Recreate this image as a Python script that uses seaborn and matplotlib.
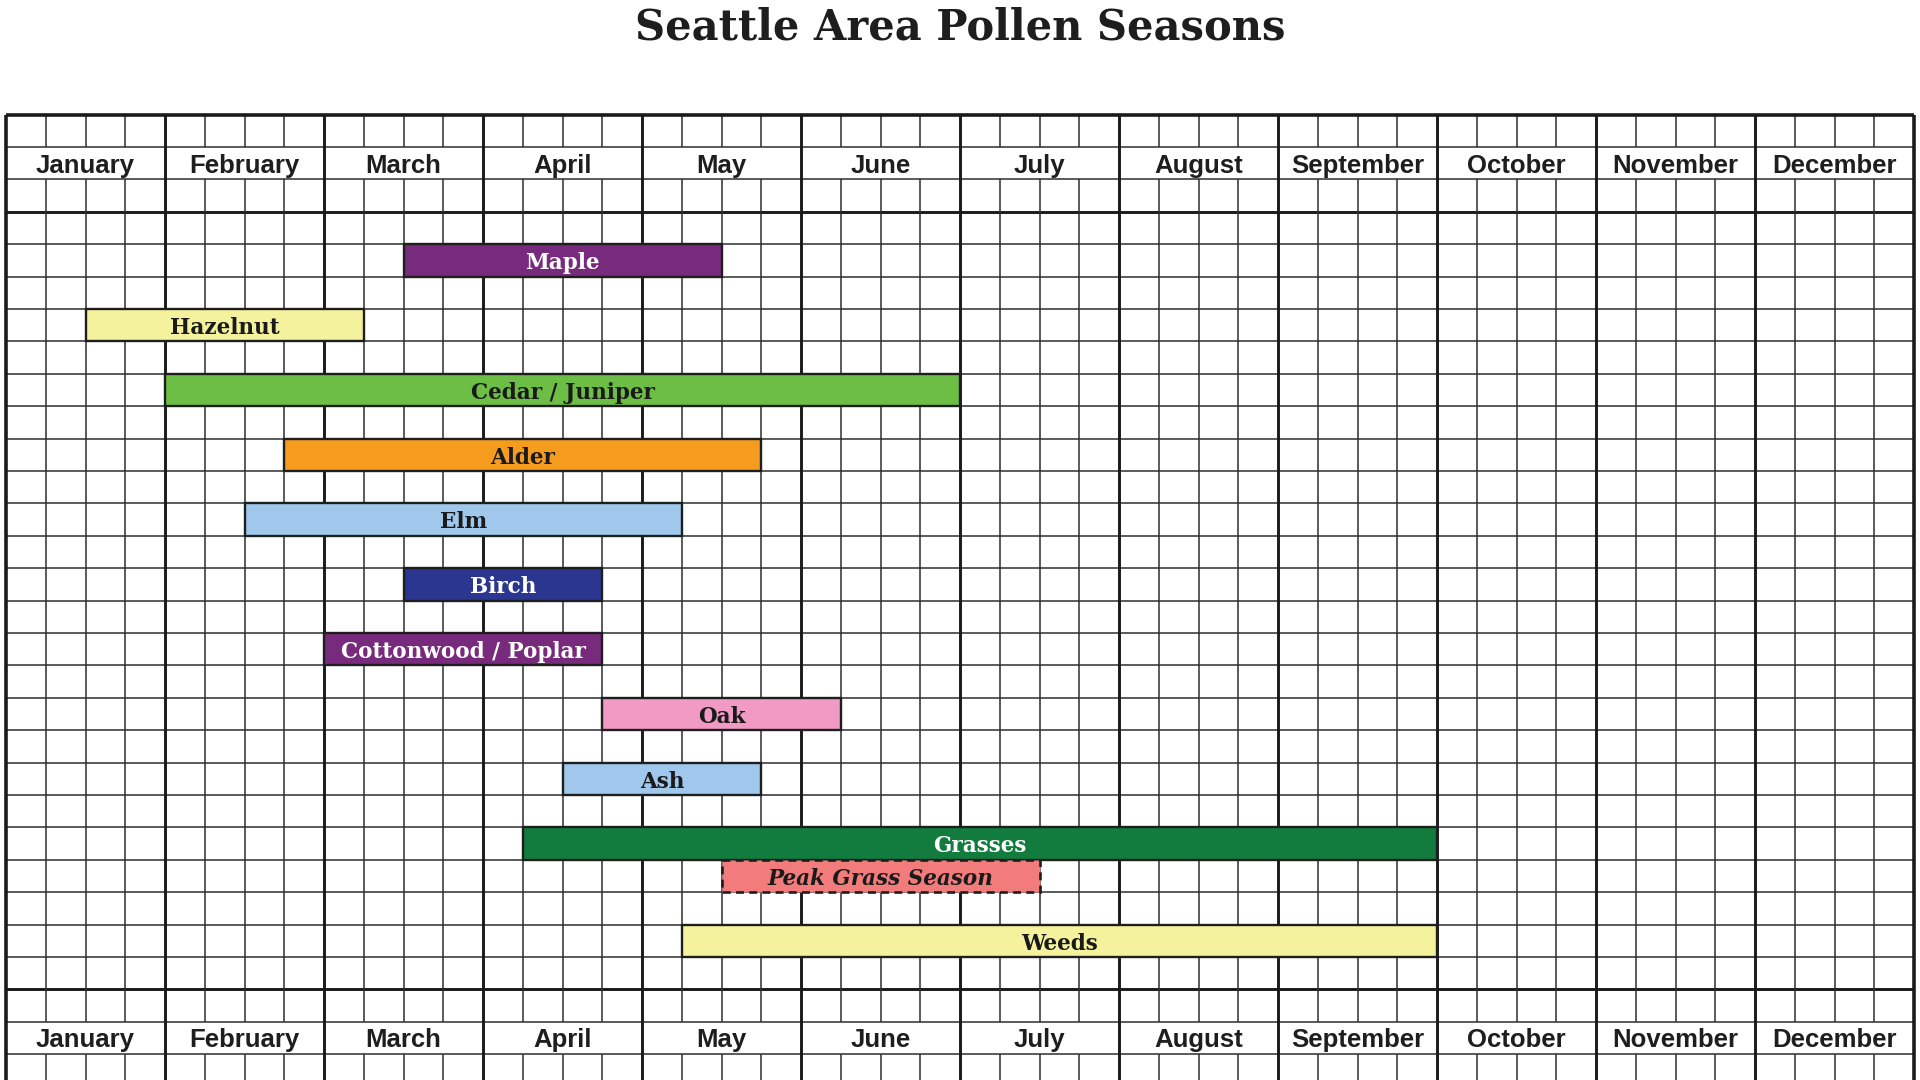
import matplotlib
matplotlib.use("Agg")
import matplotlib.pyplot as plt
import seaborn as sns
import pandas as pd

# ---------------- data ----------------
months = ["January", "February", "March", "April", "May", "June", "July",
          "August", "September", "October", "November", "December"]
weeks_per_month = 4

plants = ["Maple", "Hazelnut", "Cedar / Juniper", "Alder", "Elm", "Birch",
          "Cottonwood / Poplar", "Oak", "Ash", "Grasses", "Peak Grass Season", "Weeds"]
# season start / end, in weeks from 1 January (4 weeks per month)
start_week = [10, 2, 4, 7, 6, 10, 8, 15, 14, 13, 18, 17]
end_week = [18, 9, 24, 19, 17, 15, 15, 21, 19, 36, 26, 36]
row_index = [1, 3, 5, 7, 9, 11, 13, 15, 17, 19, 20, 22]
bar_colors = ["#782a7c", "#f4f29c", "#6dbe45", "#f59b1e", "#a0c8ec", "#2a3690",
              "#782a7c", "#f19ac4", "#a0c8ec", "#117c3e", "#f27b7b", "#f4f29c"]
text_colors = ["white", "#1a1a1a", "#1a1a1a", "#1a1a1a", "#1a1a1a", "white",
               "white", "#1a1a1a", "#1a1a1a", "white", "#1a1a1a", "#1a1a1a"]
dashed = [False] * 12
dashed[10] = True
italic = [False] * 12
italic[10] = True

df = pd.DataFrame({"plant": plants, "start": start_week, "end": end_week,
                   "row": row_index, "color": bar_colors, "tcolor": text_colors,
                   "dashed": dashed, "italic": italic})
df["duration"] = df["end"] - df["start"]

body_rows = 24
header_rows = 3

# ---------------- figure ----------------
sns.set_theme(style="white")
W, H = 1920, 1080
fig = plt.figure(figsize=(W / 100, H / 100), dpi=100)
fig.patch.set_facecolor("white")

grid_left, grid_right = 6, 1914
body_top_px = 211.8
row_px = 32.4
grid_top_px = body_top_px - header_rows * row_px
ax = fig.add_axes([grid_left / W, 0, (grid_right - grid_left) / W, (H - grid_top_px) / H])
n_weeks = len(months) * weeks_per_month
y_bottom = (H - body_top_px) / row_px
ax.set_xlim(0, n_weeks)
ax.set_ylim(y_bottom, -header_rows)
ax.axis("off")

thin_c, thick_c = "#2e2e2e", "#1a1a1a"
thin_lw, thick_lw = 1.1, 2.1

top_label_row = -2              # row spanning -2..-1
bot_label_row = body_rows + 1   # row spanning 25..26

# horizontal lines
for r in range(-header_rows, int(y_bottom) + 1):
    thick = r in (0, body_rows)
    ax.hlines(r, 0, n_weeks, colors=thick_c if thick else thin_c,
              lw=thick_lw if thick else thin_lw, zorder=1)
ax.hlines(-header_rows, 0, n_weeks, colors=thick_c, lw=2.6, zorder=5, clip_on=False)

# vertical lines
segments = [(-header_rows, top_label_row), (top_label_row + 1, bot_label_row),
            (bot_label_row + 1, y_bottom)]
for w in range(0, n_weeks + 1):
    if w % weeks_per_month == 0:
        lw = 2.6 if w in (0, n_weeks) else thick_lw
        ax.vlines(w, -header_rows, y_bottom, colors=thick_c, lw=lw, zorder=2, clip_on=False)
    else:
        for a, b in segments:
            ax.vlines(w, a, b, colors=thin_c, lw=thin_lw, zorder=1)

# month labels
for i, m in enumerate(months):
    xc = i * weeks_per_month + weeks_per_month / 2
    for yc in (top_label_row + 0.5, bot_label_row + 0.5):
        ax.text(xc, yc + 0.29, m, ha="center", va="baseline", fontsize=18.5, fontweight="bold",
                family=["Liberation Sans", "DejaVu Sans"], color="#1e1e1e", zorder=6)

# bars
for _, r in df.iterrows():
    ax.barh(r["row"] + 0.5, r["duration"], left=r["start"], height=1.0,
            color=r["color"], edgecolor="#1e1e1e", lw=1.7 if not r["dashed"] else 1.9,
            linestyle=(0, (3, 2)) if r["dashed"] else "-", zorder=3)
    ax.text(r["start"] + r["duration"] / 2, r["row"] + 0.5 + 0.27, r["plant"],
            ha="center", va="baseline", fontsize=15.5, fontweight="bold",
            fontstyle="italic" if r["italic"] else "normal",
            family=["DejaVu Serif"], color=r["tcolor"], zorder=4)

fig.text(0.5, 1 - 27 / H, "Seattle Area Pollen Seasons", ha="center", va="center",
         fontsize=30, fontweight="bold", family=["DejaVu Serif"], color="#1e1e1e")

fig.savefig("out.png", dpi=100, facecolor="white")
